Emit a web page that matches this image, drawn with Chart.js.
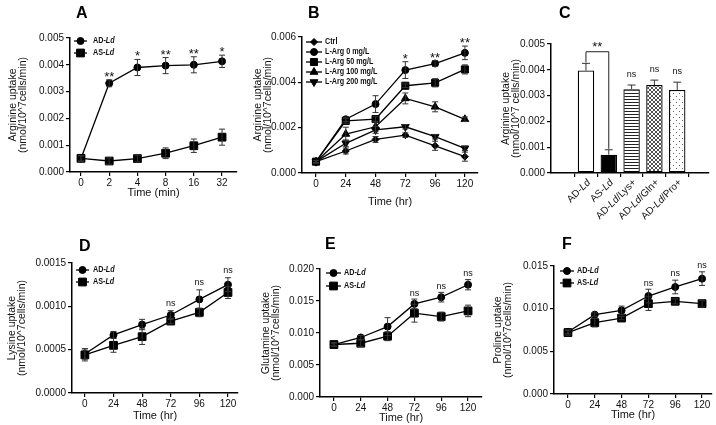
<!DOCTYPE html>
<html lang="en">
<head>
<meta charset="UTF-8">
<title>Amino acid uptake, panels A-F</title>
<style>
  body { margin: 0; background: #fff; }
  #fig { position: relative; width: 716px; height: 425px; overflow: hidden; }
  #fig canvas { position: absolute; }
  .letter { position: absolute; font: bold 16px/16px "Liberation Sans", Arial, sans-serif; color: #000; }
</style>
</head>
<body>
<div id="fig">
  <canvas id="chartA" width="240" height="205" style="left:0;top:0"></canvas>
  <canvas id="chartB" width="244" height="210" style="left:236px;top:0"></canvas>
  <canvas id="chartD" width="240" height="210" style="left:0;top:215px"></canvas>
  <canvas id="chartE" width="250" height="210" style="left:236px;top:215px"></canvas>
  <canvas id="chartF" width="236" height="210" style="left:480px;top:215px"></canvas>
  <canvas id="chartC" width="220" height="230" style="left:496px;top:0"></canvas>
  <div class="letter" style="left:76px;top:5px">A</div>
  <div class="letter" style="left:308px;top:5px">B</div>
  <div class="letter" style="left:559px;top:5px">C</div>
  <div class="letter" style="left:79px;top:238px">D</div>
  <div class="letter" style="left:325px;top:236px">E</div>
  <div class="letter" style="left:562px;top:236px">F</div>
</div>

<script src="https://cdn.jsdelivr.net/npm/chart.js"></script>
<script>
// ---- data ----
const timeMin = ['0', '2', '4', '8', '16', '32'];
const timeHr = ['0', '24', '48', '72', '96', '120'];

// A: arginine uptake, minutes
const argAD = [0.0005, 0.00331, 0.0039, 0.00397, 0.004, 0.00413];
const argADErr = [0.0001, 0.00013, 0.0003, 0.0003, 0.0003, 0.00023];
const argAS = [0.00051, 0.00041, 0.0005, 0.0007, 0.00098, 0.0013];
const argASErr = [0.0001, 0.00012, 0.00013, 0.0002, 0.00025, 0.0003];
const sigA = ['', '**', '*', '**', '**', '*'];

// B: arginine uptake vs L-Arg in medium, hours
const ctrl = [0.0005, 0.00097, 0.00148, 0.00167, 0.0012, 0.00072];
const ctrlErr = [0.00005, 0.00013, 0.00013, 0.0001, 0.0002, 0.0002];
const arg0 = [0.0005, 0.00237, 0.00304, 0.00454, 0.00483, 0.0053];
const arg0Err = [0.00005, 0.0001, 0.00037, 0.00037, 0.00013, 0.0003];
const arg50 = [0.0005, 0.0023, 0.00238, 0.00385, 0.00398, 0.00457];
const arg50Err = [0.00005, 0.0001, 0.0001, 0.00008, 0.00018, 0.0002];
const arg100 = [0.0005, 0.00172, 0.00204, 0.00329, 0.00292, 0.00237];
const arg100Err = [0.00005, 0.0003, 0.0002, 0.00024, 0.00022, 0.0001];
const arg200 = [0.0005, 0.00131, 0.0019, 0.00204, 0.0016, 0.00109];
const arg200Err = [0.00005, 0.00015, 0.00015, 0.0001, 0.0001, 0.0001];
const sigB = ['', '', '', '*', '**', '**'];

// C: arginine uptake with competing amino acids
const groupsC = ['AD-Ld', 'AS-Ld', 'AD-Ld/Lys+', 'AD-Ld/Gln+', 'AD-Ld/Pro+'];
const argC = [0.00397, 0.00071, 0.00325, 0.00341, 0.00322];
const argCErr = [0.00028, 0.00019, 0.00016, 0.00019, 0.0003];
const sigC = ['', '', 'ns', 'ns', 'ns'];
const bracketLevelC = 0.0047;

// D: lysine
const lysAD = [0.00045, 0.00067, 0.00079, 0.0009, 0.00108, 0.00125];
const lysADErr = [0.00006, 0.00004, 0.00006, 0.00005, 0.00011, 0.00008];
const lysAS = [0.00044, 0.00055, 0.00065, 0.00083, 0.00093, 0.00116];
const lysASErr = [0.00007, 0.00008, 0.00009, 0.00003, 0.00005, 0.00007];

// E: glutamine
const glnAD = [0.0082, 0.0093, 0.011, 0.01455, 0.0156, 0.01754];
const glnADErr = [0.0003, 0.0003, 0.0014, 0.00075, 0.00075, 0.0008];
const glnAS = [0.0082, 0.0084, 0.0095, 0.0131, 0.01257, 0.01345];
const glnASErr = [0.0002, 0.0005, 0.0007, 0.0014, 0.0007, 0.0009];

// F: proline
const proAD = [0.00727, 0.0093, 0.0098, 0.01148, 0.01254, 0.01352];
const proADErr = [0.0002, 0.0002, 0.0005, 0.0008, 0.0008, 0.0008];
const proAS = [0.0072, 0.00836, 0.0089, 0.01059, 0.01086, 0.01059];
const proASErr = [0.0003, 0.0005, 0.0002, 0.0008, 0.0003, 0.0004];
const sigNs = ['', '', '', 'ns', 'ns', 'ns'];

const yTicksA = [0, 0.001, 0.002, 0.003, 0.004, 0.005];
const yTicksB = [0, 0.002, 0.004, 0.006];
const yTicksC = [0, 0.001, 0.002, 0.003, 0.004, 0.005];
const yTicksD = [0, 0.0005, 0.001, 0.0015];
const yTicksE = [0, 0.005, 0.01, 0.015, 0.02];
const yTicksF = [0, 0.005, 0.01, 0.015];

// ---- drawing ----
const FONT = '"Liberation Sans", Arial, sans-serif';
Chart.defaults.font.family = FONT;
Chart.defaults.color = '#111';

const pts = arr => arr.map((y, x) => ({ x, y }));

// text where "Ld" is set in italics
function drawRich(ctx, text, x, y, opt) {
  const parts = text.split(/(Ld)/).filter(Boolean);
  const fontOf = p => (p === 'Ld' ? 'italic ' : '') + opt.weight + ' ' + opt.size + 'px ' + FONT;
  let w = 0;
  parts.forEach(p => { ctx.font = fontOf(p); w += ctx.measureText(p).width; });
  ctx.save();
  ctx.translate(x, y);
  if (opt.rotate) ctx.rotate(opt.rotate);
  ctx.scale(opt.squeeze || 1, 1);
  ctx.fillStyle = '#111';
  ctx.textAlign = 'left';
  ctx.textBaseline = 'middle';
  let cx = opt.align === 'right' ? -w : 0;
  parts.forEach(p => { ctx.font = fontOf(p); ctx.fillText(p, cx, 0); cx += ctx.measureText(p).width; });
  ctx.restore();
}

const errorBars = {
  id: 'errorBars',
  afterDatasetsDraw(chart) {
    const ctx = chart.ctx, ys = chart.scales.y;
    const isBar = chart.config.type === 'bar';
    ctx.save();
    ctx.strokeStyle = '#333';
    ctx.lineWidth = 1;
    chart.data.datasets.forEach((ds, i) => {
      if (!ds.errors) return;
      chart.getDatasetMeta(i).data.forEach((el, j) => {
        const v = ds.data[j].y, e = ds.errors[j];
        const top = ys.getPixelForValue(v + e);
        const bot = isBar ? ys.getPixelForValue(v) : ys.getPixelForValue(v - e);
        const cap = isBar ? 4 : 3;
        ctx.beginPath();
        ctx.moveTo(el.x, top); ctx.lineTo(el.x, bot);
        ctx.moveTo(el.x - cap, top); ctx.lineTo(el.x + cap, top);
        if (!isBar) { ctx.moveTo(el.x - cap, bot); ctx.lineTo(el.x + cap, bot); }
        ctx.stroke();
      });
    });
    ctx.restore();
  }
};

const sigMarks = {
  id: 'sigMarks',
  afterDatasetsDraw(chart, args, opts) {
    if (!opts.labels) return;
    const ctx = chart.ctx, ys = chart.scales.y;
    ctx.save();
    ctx.fillStyle = '#111';
    ctx.textAlign = 'center';
    ctx.textBaseline = 'alphabetic';
    opts.labels.forEach((t, j) => {
      if (!t) return;
      let top = Infinity, x = 0;
      chart.data.datasets.forEach((ds, i) => {
        const e = ds.errors ? ds.errors[j] : 0;
        top = Math.min(top, ys.getPixelForValue(ds.data[j].y + e));
        x = chart.getDatasetMeta(i).data[j].x;
      });
      if (t === 'ns') {
        ctx.font = '9px ' + FONT;
        ctx.fillText(t, x, top - opts.nsGap);
      } else {
        ctx.font = '13px ' + FONT;
        ctx.fillText(t, x, top + 1);
      }
    });
    ctx.restore();
  }
};

const bracket = {
  id: 'bracket',
  afterDatasetsDraw(chart, args, opts) {
    if (opts.level === undefined) return;
    const ctx = chart.ctx, ys = chart.scales.y;
    const ds = chart.data.datasets[0], meta = chart.getDatasetMeta(0);
    const yb = ys.getPixelForValue(opts.level);
    const legEnd = j => ys.getPixelForValue(ds.data[j].y + ds.errors[j]) - 1;
    const x0 = meta.data[opts.from].x, x1 = meta.data[opts.to].x;
    ctx.save();
    ctx.strokeStyle = '#222';
    ctx.lineWidth = 1;
    ctx.beginPath();
    ctx.moveTo(x0, legEnd(opts.from)); ctx.lineTo(x0, yb); ctx.lineTo(x1, yb); ctx.lineTo(x1, legEnd(opts.to));
    ctx.stroke();
    ctx.fillStyle = '#111';
    ctx.font = '13px ' + FONT;
    ctx.textAlign = 'center';
    ctx.fillText(opts.text, (x0 + x1) / 2, yb - 1);
    ctx.restore();
  }
};

const panelLegend = {
  id: 'panelLegend',
  afterDraw(chart, args, opts) {
    if (opts.x === undefined) return;
    const ctx = chart.ctx, { left, top } = chart.chartArea;
    chart.data.datasets.forEach((ds, i) => {
      const cy = top + opts.y + i * opts.row, x0 = left + opts.x;
      ctx.save();
      ctx.strokeStyle = '#000';
      ctx.fillStyle = '#000';
      ctx.lineWidth = 1.3;
      ctx.beginPath();
      ctx.moveTo(x0, cy); ctx.lineTo(x0 + opts.line, cy);
      ctx.stroke();
      ctx.lineWidth = 1;
      Chart.helpers.drawPoint(ctx, { pointStyle: ds.pointStyle, radius: ds.pointRadius, rotation: ds.pointRotation || 0, borderWidth: 1 }, x0 + opts.line / 2, cy);
      ctx.restore();
      drawRich(ctx, ds.label, x0 + opts.line + opts.gap, cy, { weight: 'bold', size: 9, squeeze: 0.8 });
    });
  }
};

// rotated category labels for the bar panel
const slantLabels = {
  id: 'slantLabels',
  afterDraw(chart, args, opts) {
    if (!opts.labels) return;
    const ctx = chart.ctx, meta = chart.getDatasetMeta(0), bottom = chart.chartArea.bottom;
    opts.labels.forEach((t, j) => {
      drawRich(ctx, t, meta.data[j].x + 3, bottom + 8, { weight: 'normal', size: 10, align: 'right', rotate: -Math.PI / 4 });
    });
  }
};

function axisStyle() {
  return {
    grid: { drawOnChartArea: false, drawTicks: true, tickLength: 4, color: '#000', lineWidth: 1.2 },
    border: { color: '#000', width: 1.5 }
  };
}

function makeChart(id, box, area, cfg) {
  const yWidth = area.l - box.x;
  const xHeight = box.y + box.h - area.b;
  return new Chart(document.getElementById(id), {
    type: cfg.type,
    data: { datasets: cfg.datasets },
    options: {
      responsive: false,
      animation: false,
      events: [],
      layout: { autoPadding: false, padding: { left: 0, top: area.t - box.y, right: box.x + box.w - area.r, bottom: 0 } },
      plugins: Object.assign({ legend: { display: false }, tooltip: { enabled: false } }, cfg.plugins),
      scales: {
        x: Object.assign(axisStyle(), {
          type: 'linear', min: cfg.xMin, max: cfg.xMax,
          afterBuildTicks: s => { s.ticks = cfg.xLabels.map((_, i) => ({ value: i })); },
          afterFit: s => { s.height = xHeight; },
          ticks: { display: !cfg.slant, autoSkip: false, maxRotation: 0, padding: 1, font: { size: 10 }, callback: v => cfg.xLabels[v] },
          title: cfg.xTitle ? { display: true, text: cfg.xTitle, font: { size: 11 }, padding: { top: 0, bottom: cfg.xTitlePad } } : { display: false }
        }),
        y: Object.assign(axisStyle(), {
          min: 0, max: cfg.yTicks[cfg.yTicks.length - 1],
          afterBuildTicks: s => { s.ticks = cfg.yTicks.map(v => ({ value: v })); },
          afterFit: s => { s.width = yWidth; },
          ticks: { padding: 2, font: { size: 10 }, callback: v => v.toFixed(cfg.yDec) },
          title: { display: true, text: cfg.yTitle, font: { size: 10.5, lineHeight: 0.95 }, padding: { top: cfg.yTitlePad, bottom: 0 } }
        })
      }
    },
    plugins: [errorBars, sigMarks, bracket, panelLegend, slantLabels]
  });
}

function series(label, values, errors, shape, r, rot) {
  return {
    label, data: pts(values), errors,
    borderColor: '#000', backgroundColor: '#000', borderWidth: 1.3,
    pointStyle: shape, pointRadius: r, pointRotation: rot || 0,
    pointBorderColor: '#000', pointBackgroundColor: '#000', pointBorderWidth: 1,
    tension: 0
  };
}

function pattern(kind) {
  const c = document.createElement('canvas');
  const g = c.getContext('2d');
  if (kind === 'stripes') {
    c.width = 4; c.height = 3;
    g.fillStyle = '#fff'; g.fillRect(0, 0, 4, 3);
    g.fillStyle = '#222'; g.fillRect(0, 0, 4, 1);
  } else if (kind === 'cross') {
    c.width = 4; c.height = 4;
    g.fillStyle = '#fff'; g.fillRect(0, 0, 4, 4);
    g.fillStyle = '#555';
    for (let i = 0; i < 4; i++) { g.fillRect(i, i, 1, 1); g.fillRect(3 - i, i, 1, 1); }
  } else {
    c.width = 6; c.height = 6;
    g.fillStyle = '#fff'; g.fillRect(0, 0, 6, 6);
    g.fillStyle = '#666';
    g.fillRect(0, 0, 1, 1); g.fillRect(3, 3, 1, 1);
  }
  return g.createPattern(c, 'repeat');
}

const legendAD = ['AD-Ld', 'AS-Ld'];

makeChart('chartA', { x: 0, y: 0, w: 240, h: 205 }, { l: 70, t: 38, r: 237, b: 172 }, {
  type: 'line', xLabels: timeMin, xMin: -0.39, xMax: 5.53, yTicks: yTicksA, yDec: 3,
  xTitle: 'Time (min)', xTitlePad: 5, yTitle: ['Arginine uptake', '(nmol/10^7cells/min)'], yTitlePad: 8,
  datasets: [
    series(legendAD[0], argAD, argADErr, 'circle', 3.5),
    series(legendAD[1], argAS, argASErr, 'rect', 5.5)
  ],
  plugins: { sigMarks: { labels: sigA, nsGap: 4 }, panelLegend: { x: 4, y: 3, row: 12, line: 13, gap: 6 } }
});

makeChart('chartB', { x: 236, y: 0, w: 244, h: 210 }, { l: 302, t: 37, r: 478, b: 173 }, {
  type: 'line', xLabels: timeHr, xMin: -0.47, xMax: 5.44, yTicks: yTicksB, yDec: 3,
  xTitle: 'Time (hr)', xTitlePad: 1.5, yTitle: ['Arginine uptake', '(nmol/10^7cells/min)'], yTitlePad: 17,
  datasets: [
    series('Ctrl', ctrl, ctrlErr, 'rectRot', 3.5),
    series('L-Arg 0 mg/L', arg0, arg0Err, 'circle', 3.5),
    series('L-Arg 50 mg/L', arg50, arg50Err, 'rect', 5),
    series('L-Arg 100 mg/L', arg100, arg100Err, 'triangle', 4.5),
    series('L-Arg 200 mg/L', arg200, arg200Err, 'triangle', 4.5, 180)
  ],
  plugins: { sigMarks: { labels: sigB, nsGap: 4 }, panelLegend: { x: 4, y: 5, row: 10, line: 16, gap: 3 } }
});

makeChart('chartC', { x: 496, y: 0, w: 220, h: 230 }, { l: 551, t: 44, r: 709, b: 173 }, {
  type: 'bar', xLabels: groupsC, xMin: -0.84, xMax: 4.7, yTicks: yTicksC, yDec: 3, slant: true,
  yTitle: ['Arginine uptake', '(nmol/10^7 cells/min)'], yTitlePad: 5,
  datasets: [{
    data: pts(argC), errors: argCErr,
    backgroundColor: ['#fff', '#000', pattern('stripes'), pattern('cross'), pattern('dots')],
    borderColor: '#000', borderWidth: 1.3, borderSkipped: false,
    barPercentage: 0.72, categoryPercentage: 1
  }],
  plugins: {
    sigMarks: { labels: sigC, nsGap: 8 },
    bracket: { from: 0, to: 1, level: bracketLevelC, text: '**' },
    slantLabels: { labels: groupsC }
  }
});

makeChart('chartD', { x: 0, y: 215, w: 240, h: 210 }, { l: 72, t: 263, r: 238, b: 393 }, {
  type: 'line', xLabels: timeHr, xMin: -0.45, xMax: 5.35, yTicks: yTicksD, yDec: 4,
  xTitle: 'Time (hr)', xTitlePad: 2.5, yTitle: ['Lysine uptake', '(nmol/10^7cells/min)'], yTitlePad: 7,
  datasets: [
    series(legendAD[0], lysAD, lysADErr, 'circle', 3.5),
    series(legendAD[1], lysAS, lysASErr, 'rect', 5.5)
  ],
  plugins: { sigMarks: { labels: sigNs, nsGap: 4.5 }, panelLegend: { x: 4, y: 7, row: 12, line: 13, gap: 4 } }
});

makeChart('chartE', { x: 236, y: 215, w: 250, h: 210 }, { l: 320, t: 269, r: 482, b: 397 }, {
  type: 'line', xLabels: timeHr, xMin: -0.52, xMax: 5.52, yTicks: yTicksE, yDec: 3,
  xTitle: 'Time (hr)', xTitlePad: 0.5, yTitle: ['Glutamine uptake', '(nmol/10^7cells/min)'], yTitlePad: 25,
  datasets: [
    series(legendAD[0], glnAD, glnADErr, 'circle', 3.5),
    series(legendAD[1], glnAS, glnASErr, 'rect', 5.5)
  ],
  plugins: { sigMarks: { labels: sigNs, nsGap: 3.5 }, panelLegend: { x: 6, y: 4, row: 13, line: 15, gap: 3 } }
});

makeChart('chartF', { x: 480, y: 215, w: 236, h: 210 }, { l: 554, t: 266, r: 712, b: 394 }, {
  type: 'line', xLabels: timeHr, xMin: -0.52, xMax: 5.37, yTicks: yTicksF, yDec: 3,
  xTitle: 'Time (hr)', xTitlePad: 3.5, yTitle: ['Proline uptake', '(nmol/10^7cells/min)'], yTitlePad: 13,
  datasets: [
    series(legendAD[0], proAD, proADErr, 'circle', 3.5),
    series(legendAD[1], proAS, proASErr, 'rect', 5.5)
  ],
  plugins: { sigMarks: { labels: sigNs, nsGap: 3.7 }, panelLegend: { x: 6, y: 5, row: 12, line: 14, gap: 3 } }
});
</script>
</body>
</html>
